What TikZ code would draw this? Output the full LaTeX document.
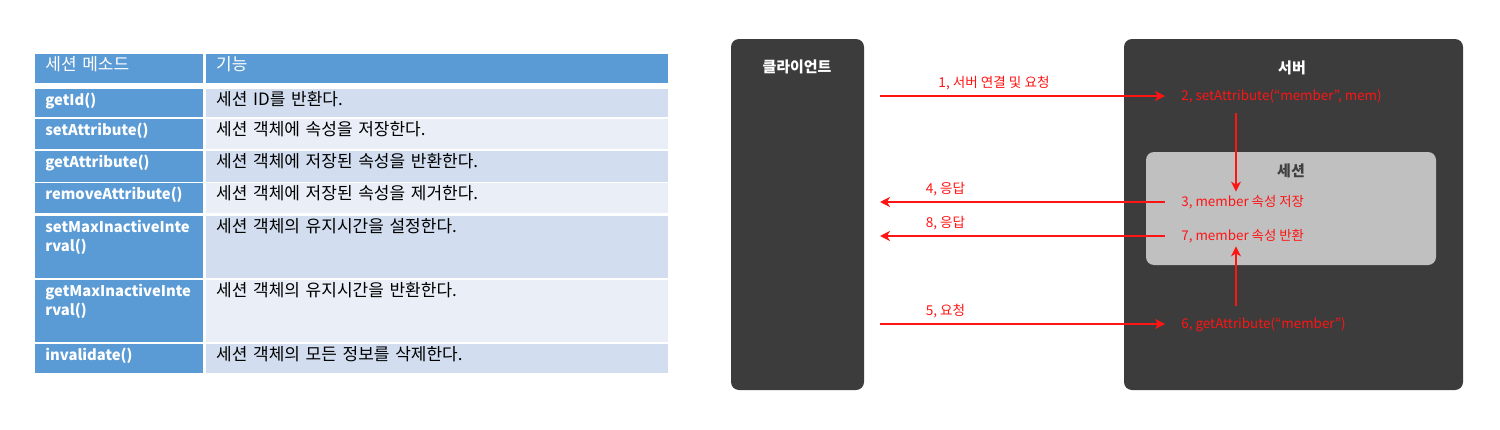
\documentclass[tikz,border=0pt]{standalone}
\usepackage{fontspec}
\setmainfont{Noto Sans CJK KR}
\usepackage{tikz}
\usetikzlibrary{arrows.meta, positioning}

\definecolor{tblblue}{HTML}{5B9BD5}
\definecolor{tblrowa}{HTML}{D2DEEF}
\definecolor{tblrowb}{HTML}{EAEFF7}
\definecolor{boxdark}{HTML}{3C3C3C}
\definecolor{boxlight}{HTML}{C0C0C0}
\definecolor{msgred}{HTML}{FF1414}

\begin{document}
\begin{tikzpicture}[
    x=0.5pt, y=-0.5pt,
    cell/.style={
        anchor=north west,
        inner xsep=5pt,
        inner ysep=0pt,
        text height=8pt,
        align=left,
        font=\fontsize{8.5}{9.5}\selectfont
    },
    hcell/.style={cell, fill=tblblue, text=white, text width=74pt},
    mcell/.style={cell, fill=tblblue, text=white, text width=74pt, font=\fontsize{7.4}{9.5}\selectfont\bfseries},
    dcell/.style={cell, text=black, text width=221pt},
    darkbox/.style={rectangle, rounded corners=4pt, fill=boxdark},
    lightbox/.style={rectangle, rounded corners=4pt, fill=boxlight},
    boxname/.style={text=white, font=\fontsize{7.5}{9}\selectfont\bfseries},
    msg/.style={
        anchor=west,
        text=msgred,
        inner xsep=8pt,
        inner ysep=1.5pt,
        text height=5.5pt,
        text depth=1.5pt,
        font=\fontsize{6.7}{8}\selectfont
    },
    lbl/.style={anchor=south, yshift=1.5pt, inner sep=1pt, text=msgred, font=\fontsize{6.8}{8}\selectfont},
    arrow/.style={-{Stealth[length=5pt, width=5pt, inset=1.5pt]}, line width=1pt, draw=msgred}
]
\useasboundingbox (0,0) rectangle (1500,429);

% table of session methods
\node[hcell, text depth=6.5pt] (m0) at (35,54) {세션 메소드};
\node[hcell, text width=221pt, text depth=6.5pt, right=1pt of m0] (d0) {기능};

\node[mcell, text depth=6pt] (m1) at (35,89) {getId()};
\node[dcell, fill=tblrowa, text depth=6pt, right=1pt of m1] (d1) {세션 ID를 반환다.};

\node[mcell, text depth=7pt] (m2) at (35,119) {setAttribute()};
\node[dcell, fill=tblrowb, text depth=7pt, right=1pt of m2] (d2) {세션 객체에 속성을 저장한다.};

\node[mcell, text depth=7.5pt] (m3) at (35,151) {getAttribute()};
\node[dcell, fill=tblrowa, text depth=7.5pt, right=1pt of m3] (d3) {세션 객체에 저장된 속성을 반환한다.};

\node[mcell, text depth=7pt] (m4) at (35,183) {removeAttribute()};
\node[dcell, fill=tblrowb, text depth=7pt, right=1pt of m4] (d4) {세션 객체에 저장된 속성을 제거한다.};

\node[mcell, text depth=23pt] (m5) at (35,216) {setMaxInactiveInte\\rval()};
\node[dcell, fill=tblrowa, text depth=23pt, right=1pt of m5] (d5) {세션 객체의 유지시간을 설정한다.};

\node[mcell, text depth=23pt] (m6) at (35,280) {getMaxInactiveInte\\rval()};
\node[dcell, fill=tblrowb, text depth=23pt, right=1pt of m6] (d6) {세션 객체의 유지시간을 반환한다.};

\node[mcell, text depth=6.5pt] (m7) at (35,344) {invalidate()};
\node[dcell, fill=tblrowa, text depth=6.5pt, right=1pt of m7] (d7) {세션 객체의 모든 정보를 삭제한다.};

% client / server
\node[darkbox, minimum width=66.5pt, minimum height=175.5pt] (client) at (797.5,214.5) {};
\node[darkbox, minimum width=169.5pt, minimum height=175.5pt] (server) at (1293.5,214.5) {};
\node[lightbox, minimum width=145pt, minimum height=56.5pt] (session) at (1291,208.5) {};

\node[boxname] (clientname) at (797,67) {클라이언트};
\node[boxname] (servername) at (1292,68) {서버};
\node[boxname, text=black!75] (sessionname) at (1291,171) {세션};

\node[msg] (set) at (1165,96) {2, setAttribute(“member”, mem)};
\node[msg] (store) at (1165,202) {3, member 속성 저장};
\node[msg] (fetch) at (1165,236) {7, member 속성 반환};
\node[msg] (get) at (1165,324) {6, getAttribute(“member”)};

\coordinate (req1) at (880,96);
\coordinate (res4) at (880,202);
\coordinate (res8) at (880,236);
\coordinate (req5) at (880,324);
\coordinate (down) at (1236,113);
\coordinate (up) at (1236,306);

\draw[arrow] (req1) -- node[lbl, pos=0.4] (lbl1) {1, 서버 연결 및 요청} (set.west);
\draw[arrow] (down) -- (down |- store.north);
\draw[arrow] (store.west) -- node[lbl, pos=0.77] (lbl4) {4, 응답} (res4);
\draw[arrow] (req5) -- node[lbl, pos=0.23] (lbl5) {5, 요청} (get.west);
\draw[arrow] (up) -- (up |- fetch.south);
\draw[arrow] (fetch.west) -- node[lbl, pos=0.77] (lbl8) {8, 응답} (res8);

\end{tikzpicture}
\end{document}
